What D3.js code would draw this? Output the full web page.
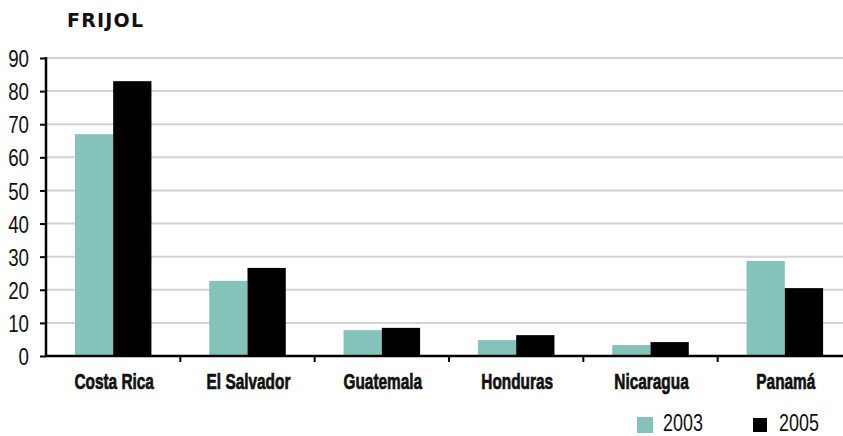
<!DOCTYPE html>
<html>
<head>
<meta charset="utf-8">
<script src="https://cdn.jsdelivr.net/npm/d3@7"></script>
<style>
  html, body { margin: 0; padding: 0; background: #fff; }
  svg { display: block; }
</style>
</head>
<body>
<svg id="chart" width="843" height="436"></svg>
<script>
const title = "FRIJOL";
const categories = ["Costa Rica", "El Salvador", "Guatemala", "Honduras", "Nicaragua", "Panamá"];
const seriesNames = ["2003", "2005"];
const values2003 = [67, 22.7, 7.8, 4.8, 3.3, 28.7];
const values2005 = [83, 26.6, 8.5, 6.3, 4.2, 20.5];
const yTicks = [0, 10, 20, 30, 40, 50, 60, 70, 80, 90];
const colors = ["#84c3b9", "#000000"];

(function () {
const svg = d3.select("#chart");
const W = 843;
const mLeft = 46, mRight = 852, mTop = 58, mBottom = 356;
const sansF = "'Liberation Sans', Arial, sans-serif";

const x0 = d3.scaleBand().domain(categories).range([mLeft, mRight]).padding(0);
const x1 = d3.scaleBand().domain(seriesNames).range([0, x0.bandwidth()]).paddingInner(0).paddingOuter(0.755);
const y = d3.scaleLinear().domain([0, 90]).range([mBottom, mTop]);

// gridlines
svg.append("g").selectAll("line").data(yTicks.filter(d => d > 0)).join("line")
  .attr("x1", mLeft).attr("x2", W)
  .attr("y1", d => y(d)).attr("y2", d => y(d))
  .attr("stroke", "#d4d4d4").attr("stroke-width", 2);

// bars
const series = [values2003, values2005];
const g = svg.append("g");
categories.forEach((c, i) => {
  seriesNames.forEach((s, j) => {
    g.append("rect")
      .attr("x", x0(c) + x1(s))
      .attr("y", y(series[j][i]))
      .attr("width", x1.bandwidth())
      .attr("height", y(0) - y(series[j][i]))
      .attr("fill", colors[j]);
  });
});

// y axis
const SY = 0.78;
const yAxis = d3.axisLeft(y).tickValues(yTicks).tickSize(6).tickPadding(11);
const ya = svg.append("g").attr("transform", `translate(${mLeft},0)`).call(yAxis);
ya.select(".domain").remove();
ya.selectAll(".tick line").attr("stroke", "#000").attr("stroke-width", 2);
ya.selectAll(".tick text")
  .attr("font-family", sansF).attr("font-size", 24).attr("fill", "#111")
  .attr("x", -17 / SY).attr("dy", "0.36em")
  .attr("transform", `scale(${SY},1)`);
svg.append("line").attr("x1", mLeft).attr("x2", mLeft).attr("y1", mTop - 1).attr("y2", mBottom + 1)
  .attr("stroke", "#000").attr("stroke-width", 2.5);

// x axis
svg.append("line").attr("x1", mLeft).attr("x2", W).attr("y1", mBottom).attr("y2", mBottom)
  .attr("stroke", "#000").attr("stroke-width", 2.5);
svg.append("g").selectAll("line").data(categories.slice(1)).join("line")
  .attr("x1", d => x0(d)).attr("x2", d => x0(d))
  .attr("y1", mBottom).attr("y2", mBottom + 6)
  .attr("stroke", "#000").attr("stroke-width", 2);
const SC = 0.70;
svg.append("g").selectAll("text").data(categories).join("text")
  .attr("transform", d => `translate(${x0(d) + x0.bandwidth() / 2 + 1},389) scale(${SC},1)`)
  .attr("text-anchor", "middle")
  .attr("font-family", sansF).attr("font-weight", "bold").attr("font-size", 22)
  .attr("fill", "#111").attr("stroke", "#111").attr("stroke-width", 0.7)
  .text(d => d);

// title
svg.append("text").attr("x", 67).attr("y", 27)
  .attr("font-family", "'DejaVu Sans', sans-serif").attr("font-weight", "bold")
  .attr("font-size", 19).attr("fill", "#111")
  .attr("textLength", 76).attr("lengthAdjust", "spacing")
  .text(title);

// legend
const SL = 0.78;
const legendX = [637, 753];
const lg = svg.append("g");
seriesNames.forEach((s, j) => {
  lg.append("rect").attr("x", legendX[j]).attr("y", j === 0 ? 417 : 418)
    .attr("width", j === 0 ? 16 : 14).attr("height", j === 0 ? 16 : 14).attr("fill", colors[j]);
  lg.append("text")
    .attr("transform", `translate(${legendX[j] + 26},431) scale(${SL},1)`)
    .attr("font-family", sansF).attr("font-size", 23).attr("fill", "#111")
    .text(s);
});
})();
</script>
</body>
</html>
